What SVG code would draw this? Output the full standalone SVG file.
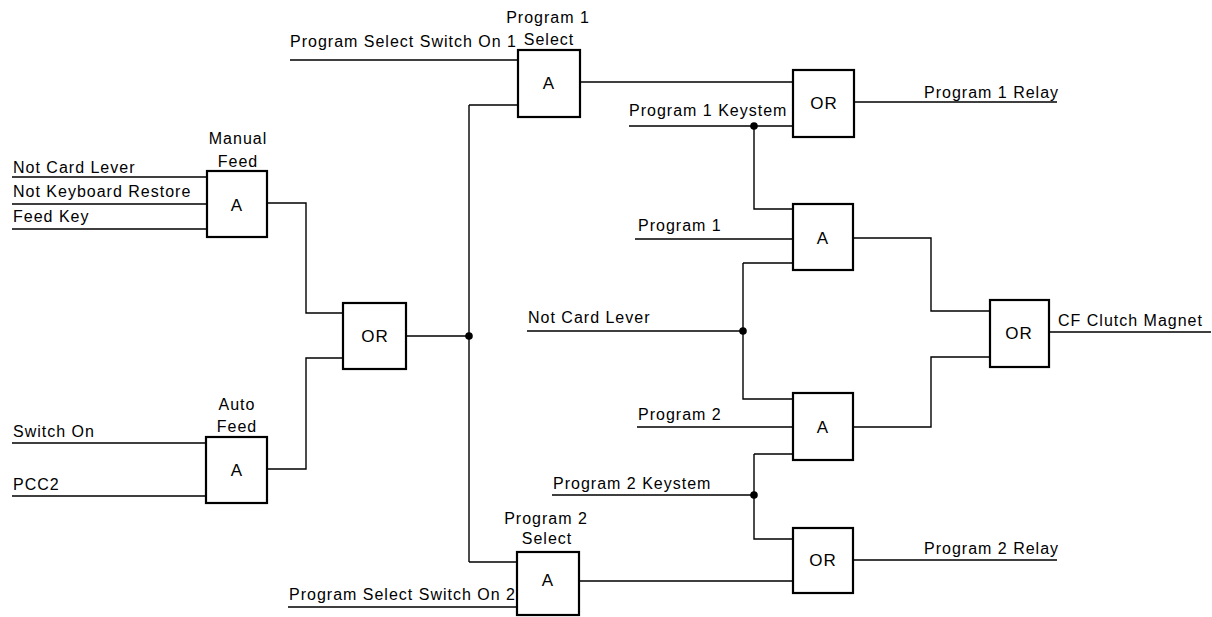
<svg xmlns="http://www.w3.org/2000/svg" width="1212" height="617" viewBox="0 0 1212 617">
<style>
text{font-family:"Liberation Sans",Arial,sans-serif;font-size:16px;letter-spacing:1px;fill:#000}
.c{text-anchor:middle}
.g{text-anchor:middle;font-size:17px}
rect{fill:#fff;stroke:#000;stroke-width:2.2}
.w{fill:none;stroke:#000;stroke-width:1.4}
.d{fill:#000}
</style>
<rect x="0" y="0" width="1212" height="617" style="fill:#fff;stroke:none"/>
<g id="connectors">
<path class="w" d="M12,177H207M12,204H207M12,229H207"/>
<path class="w" d="M12,443H206M12,496H206"/>
<path class="w" d="M267,203H306V313H343M267,469H306V358H343"/>
<path class="w" d="M406,336H469M469,105V562M469,105H518M469,562H517"/>
<path class="w" d="M290,60H518M288,607H517"/>
<path class="w" d="M580,82H793M579,581H793"/>
<path class="w" d="M629,126H793M754,126V209H793"/>
<path class="w" d="M635,239H793M527,331H743M743,263H793M743,263V399H793"/>
<path class="w" d="M637,427H793M552,495H754M754,454H793M754,454V539H793"/>
<path class="w" d="M853,238H931V311H990M853,427H931V357H990"/>
<path class="w" d="M854,102H1057M853,560H1057M1049,332H1211"/>
<circle class="d" cx="469" cy="336" r="3.8"/>
<circle class="d" cx="754" cy="126" r="3.8"/>
<circle class="d" cx="743" cy="331" r="3.8"/>
<circle class="d" cx="754" cy="495" r="3.8"/>
</g>
<g id="inputs">
<text x="13" y="173">Not Card Lever</text>
<text x="13" y="197">Not Keyboard Restore</text>
<text x="13" y="222">Feed Key</text>
<text x="13" y="437">Switch On</text>
<text x="13" y="490">PCC2</text>
<text x="290" y="47">Program Select Switch On 1</text>
<text x="289" y="600">Program Select Switch On 2</text>
<text x="629" y="116">Program 1 Keystem</text>
<text x="638" y="231">Program 1</text>
<text x="528" y="323">Not Card Lever</text>
<text x="638" y="420">Program 2</text>
<text x="553" y="489">Program 2 Keystem</text>
<text x="924" y="98">Program 1 Relay</text>
<text x="924" y="554">Program 2 Relay</text>
<text x="1058" y="326">CF Clutch Magnet</text>
</g>
<g id="manual-feed">
<rect x="207" y="171" width="60" height="66"/>
<text class="c" x="238" y="144">Manual</text>
<text class="c" x="238" y="167">Feed</text>
<text class="g" x="237" y="211">A</text>
</g>
<g id="auto-feed">
<rect x="206" y="437" width="61" height="66"/>
<text class="c" x="237" y="410">Auto</text>
<text class="c" x="237" y="432">Feed</text>
<text class="g" x="237" y="476">A</text>
</g>
<g id="or-feed">
<rect x="343" y="303" width="63" height="66"/>
<text class="g" x="375" y="342">OR</text>
</g>
<g id="program1-select">
<rect x="518" y="50" width="62" height="67"/>
<text class="c" x="548" y="23">Program 1</text>
<text class="c" x="549" y="45">Select</text>
<text class="g" x="549" y="89">A</text>
</g>
<g id="program2-select">
<rect x="517" y="552" width="62" height="63"/>
<text class="c" x="546" y="524">Program 2</text>
<text class="c" x="547" y="544">Select</text>
<text class="g" x="548" y="586">A</text>
</g>
<g id="or-program1-relay">
<rect x="793" y="70" width="61" height="67"/>
<text class="g" x="824" y="109">OR</text>
</g>
<g id="and-program1">
<rect x="793" y="204" width="60" height="66"/>
<text class="g" x="823" y="244">A</text>
</g>
<g id="and-program2">
<rect x="793" y="393" width="60" height="67"/>
<text class="g" x="823" y="433">A</text>
</g>
<g id="or-program2-relay">
<rect x="793" y="528" width="60" height="65"/>
<text class="g" x="823" y="566">OR</text>
</g>
<g id="or-clutch">
<rect x="990" y="300" width="59" height="67"/>
<text class="g" x="1019" y="339">OR</text>
</g>
</svg>
